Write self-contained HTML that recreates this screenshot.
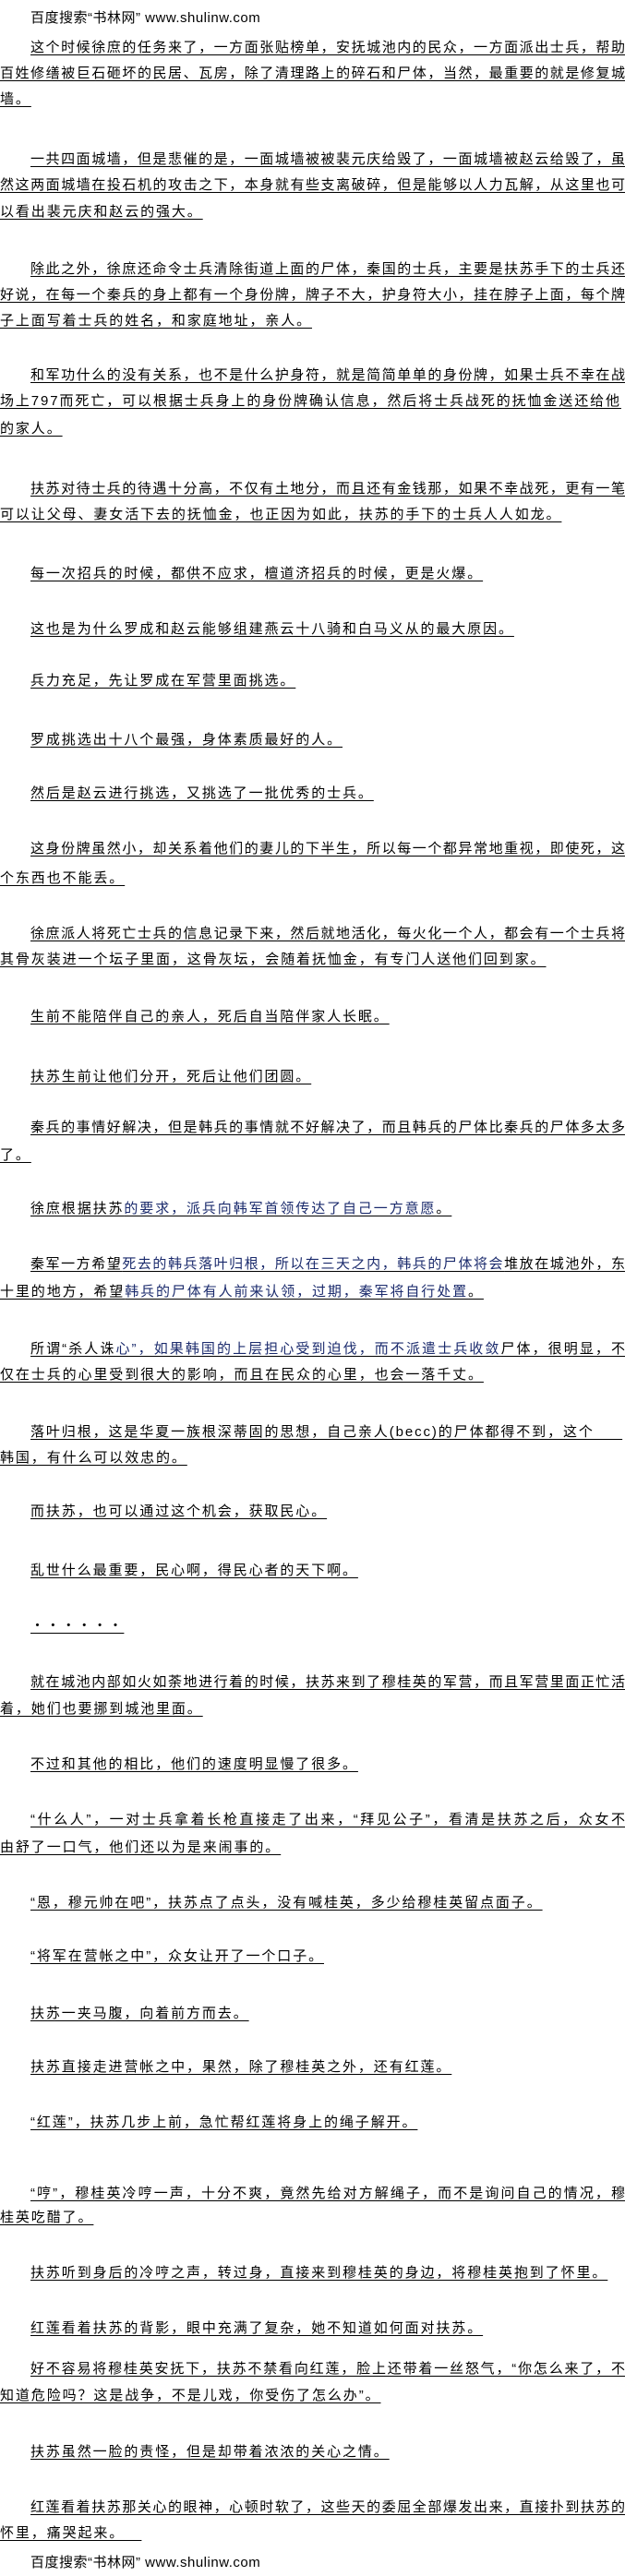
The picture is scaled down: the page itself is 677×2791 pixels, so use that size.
<!DOCTYPE html>
<html><head><meta charset="utf-8">
<style>
html,body{margin:0;padding:0;background:#fff;}
body{width:677px;height:2791px;position:relative;overflow:hidden;
font-family:"Liberation Sans","Noto Sans CJK SC","WenQuanYi Zen Hei",sans-serif;font-size:15px;color:#000;}
.l{position:absolute;height:20px;line-height:20px;white-space:nowrap;letter-spacing:1.9px;text-decoration:underline;text-underline-offset:3px;}
.i{left:33px;}
.n{left:0;}
.f{white-space:normal;text-align:justify;text-align-last:justify;right:0;letter-spacing:0;overflow:hidden;}
.h{text-decoration:none;left:33px;letter-spacing:0.5px;}
.b{color:#1a2a6c;}
</style></head><body>
<div class="l h" style="top:10px">百度搜索“书林网” www.shulinw.com</div>

<div class="l i f" style="top:42px">这个时候徐庶的任务来了，一方面张贴榜单，安抚城池内的民众，一方面派出士兵，帮助</div>
<div class="l n f" style="top:70px">百姓修缮被巨石砸坏的民居、瓦房，除了清理路上的碎石和尸体，当然，最重要的就是修复城</div>
<div class="l n" style="top:98px">墙。</div>

<div class="l i f" style="top:163px">一共四面城墙，但是悲催的是，一面城墙被被裴元庆给毁了，一面城墙被赵云给毁了，虽</div>
<div class="l n f" style="top:191px">然这两面城墙在投石机的攻击之下，本身就有些支离破碎，但是能够以人力瓦解，从这里也可</div>
<div class="l n" style="top:220px">以看出裴元庆和赵云的强大。</div>

<div class="l i f" style="top:282px">除此之外，徐庶还命令士兵清除街道上面的尸体，秦国的士兵，主要是扶苏手下的士兵还</div>
<div class="l n f" style="top:310px">好说，在每一个秦兵的身上都有一个身份牌，牌子不大，护身符大小，挂在脖子上面，每个牌</div>
<div class="l n" style="top:338px">子上面写着士兵的姓名，和家庭地址，亲人。</div>

<div class="l i f" style="top:397px">和军功什么的没有关系，也不是什么护身符，就是简简单单的身份牌，如果士兵不幸在战</div>
<div class="l n" style="top:425px">场上797而死亡，可以根据士兵身上的身份牌确认信息，然后将士兵战死的抚恤金送还给他</div>
<div class="l n" style="top:455px">的家人。</div>

<div class="l i f" style="top:520px">扶苏对待士兵的待遇十分高，不仅有土地分，而且还有金钱那，如果不幸战死，更有一笔</div>
<div class="l n" style="top:548px">可以让父母、妻女活下去的抚恤金，也正因为如此，扶苏的手下的士兵人人如龙。</div>

<div class="l i" style="top:612px">每一次招兵的时候，都供不应求，檀道济招兵的时候，更是火爆。</div>
<div class="l i" style="top:672px">这也是为什么罗成和赵云能够组建燕云十八骑和白马义从的最大原因。</div>
<div class="l i" style="top:728px">兵力充足，先让罗成在军营里面挑选。</div>
<div class="l i" style="top:792px">罗成挑选出十八个最强，身体素质最好的人。</div>
<div class="l i" style="top:850px">然后是赵云进行挑选，又挑选了一批优秀的士兵。</div>

<div class="l i f" style="top:910px">这身份牌虽然小，却关系着他们的妻儿的下半生，所以每一个都异常地重视，即使死，这</div>
<div class="l n" style="top:942px">个东西也不能丢。</div>

<div class="l i f" style="top:1002px">徐庶派人将死亡士兵的信息记录下来，然后就地活化，每火化一个人，都会有一个士兵将</div>
<div class="l n" style="top:1030px">其骨灰装进一个坛子里面，这骨灰坛，会随着抚恤金，有专门人送他们回到家。</div>

<div class="l i" style="top:1092px">生前不能陪伴自己的亲人，死后自当陪伴家人长眠。</div>
<div class="l i" style="top:1157px">扶苏生前让他们分开，死后让他们团圆。</div>

<div class="l i f" style="top:1212px">秦兵的事情好解决，但是韩兵的事情就不好解决了，而且韩兵的尸体比秦兵的尸体多太多</div>
<div class="l n" style="top:1242px">了。</div>

<div class="l i" style="top:1300px">徐庶根据扶苏<span class="b">的要求，派兵向韩军首领传达了自己一方意愿</span>。</div>

<div class="l i f" style="top:1360px">秦军一方希望<span class="b">死去的韩兵落叶归根，所以在三天之内，韩兵的尸体将会</span>堆放在城池外，东</div>
<div class="l n" style="top:1390px">十里的地方，希望<span class="b">韩兵的尸体有人前来认领，过期，秦军将自行处置</span>。</div>

<div class="l i f" style="top:1452px">所谓“杀人诛<span class="b">心”，如果韩国的上层担心受到迫伐，而不派遣士兵收敛</span>尸体，很明显，不</div>
<div class="l n" style="top:1480px">仅在士兵的心里受到很大的影响，而且在民众的心里，也会一落千丈。</div>

<div class="l i" style="top:1542px">落叶归根，这是华夏一族根深蒂固的思想，自己亲人(becc)的尸体都得不到，这个&nbsp;&nbsp;&nbsp;&nbsp;&nbsp;</div>
<div class="l n" style="top:1570px">韩国，有什么可以效忠的。</div>

<div class="l i" style="top:1628px">而扶苏，也可以通过这个机会，获取民心。</div>
<div class="l i" style="top:1692px">乱世什么最重要，民心啊，得民心者的天下啊。</div>
<div class="l i" style="top:1752px">・・・・・・</div>

<div class="l i f" style="top:1813px">就在城池内部如火如荼地进行着的时候，扶苏来到了穆桂英的军营，而且军营里面正忙活</div>
<div class="l n" style="top:1842px">着，她们也要挪到城池里面。</div>

<div class="l i" style="top:1902px">不过和其他的相比，他们的速度明显慢了很多。</div>

<div class="l i f" style="top:1962px">“什么人”，一对士兵拿着长枪直接走了出来，“拜见公子”，看清是扶苏之后，众女不</div>
<div class="l n" style="top:1992px">由舒了一口气，他们还以为是来闹事的。</div>

<div class="l i" style="top:2052px">“恩，穆元帅在吧”，扶苏点了点头，没有喊桂英，多少给穆桂英留点面子。</div>
<div class="l i" style="top:2110px">“将军在营帐之中”，众女让开了一个口子。</div>
<div class="l i" style="top:2172px">扶苏一夹马腹，向着前方而去。</div>
<div class="l i" style="top:2230px">扶苏直接走进营帐之中，果然，除了穆桂英之外，还有红莲。</div>
<div class="l i" style="top:2290px">“红莲”，扶苏几步上前，急忙帮红莲将身上的绳子解开。</div>

<div class="l i f" style="top:2367px">“哼”，穆桂英冷哼一声，十分不爽，竟然先给对方解绳子，而不是询问自己的情况，穆</div>
<div class="l n" style="top:2393px">桂英吃醋了。</div>

<div class="l i" style="top:2453px">扶苏听到身后的冷哼之声，转过身，直接来到穆桂英的身边，将穆桂英抱到了怀里。</div>
<div class="l i" style="top:2513px">红莲看着扶苏的背影，眼中充满了复杂，她不知道如何面对扶苏。</div>

<div class="l i f" style="top:2557px">好不容易将穆桂英安抚下，扶苏不禁看向红莲，脸上还带着一丝怒气，“你怎么来了，不</div>
<div class="l n" style="top:2586px">知道危险吗？这是战争，不是儿戏，你受伤了怎么办”。</div>

<div class="l i" style="top:2647px">扶苏虽然一脸的责怪，但是却带着浓浓的关心之情。</div>

<div class="l i f" style="top:2707px">红莲看着扶苏那关心的眼神，心顿时软了，这些天的委屈全部爆发出来，直接扑到扶苏的</div>
<div class="l n" style="top:2735px">怀里，痛哭起来。&nbsp;&nbsp;&nbsp;</div>

<div class="l h" style="top:2767px">百度搜索“书林网” www.shulinw.com</div>
</body></html>
